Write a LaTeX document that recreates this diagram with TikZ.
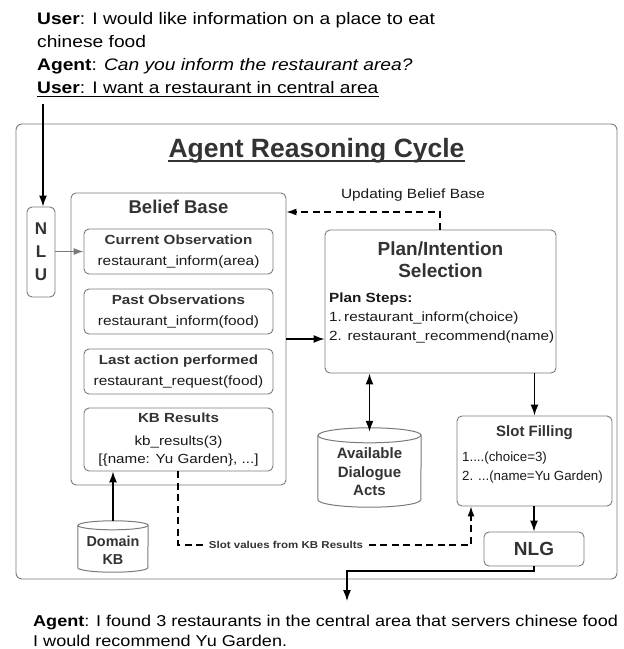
\documentclass[tikz,border=0pt]{standalone}
\usepackage{fontspec}
\setmainfont{Liberation Sans}
\newfontfamily\wide[FakeStretch=1.15]{Liberation Sans}
\usetikzlibrary{arrows.meta}
\definecolor{boxgray}{HTML}{7A7A7A}
\definecolor{txt}{HTML}{333333}
\definecolor{itm}{HTML}{1A1A1A}
\newcommand{\fsz}[2]{\fontsize{#1}{#2}\selectfont}
\begin{document}
\begin{tikzpicture}[x=1pt,y=-1pt,
  box/.style={draw=boxgray, line width=0.9pt, rounded corners=5pt, inner sep=0pt, fill=white},
  lbl/.style={inner sep=0pt, text=itm},
  ttl/.style={inner sep=0pt, text=txt},
  cyl/.style={draw=boxgray, line width=1pt, fill=white},
  arr/.style={line width=1.4pt, -{Latex[length=11pt,width=8pt]}},
  darr/.style={line width=1.4pt, {Latex[length=11pt,width=8pt]}-{Latex[length=11pt,width=8pt]}},
  dasharr/.style={line width=1.3pt, dash pattern=on 7pt off 4.5pt, -{Latex[length=10pt,width=7pt]}},
  grayarr/.style={draw=boxgray, line width=1pt, -{Latex[length=10pt,width=7pt]}, boxgray},
  tline/.style={anchor=base west, inner sep=0pt, font=\wide\fsz{16.7}{20}},
  bline/.style={anchor=base west, inner sep=0pt, font=\wide\fsz{15.7}{20}},
  itembox/.style={box, minimum width=189pt, minimum height=45pt, align=center, font=\wide\fsz{13.4}{21}, text=itm}
]
\useasboundingbox (0,0) rectangle (624,649);

% top dialogue
\node[tline] (u1) at (37,24) {\textbf{User}: I would like information on a place to eat};
\node[tline] (u2) at (37,47) {chinese food};
\node[tline] (a1) at (37,70) {\textbf{Agent}: \textit{Can you inform the restaurant area?}};
\node[tline] (u3) at (37,93) {\textbf{User}: I want a restaurant in central area};
\draw[line width=1.5pt] ([yshift=-3.5pt]u3.base west) -- ([yshift=-3.5pt]u3.base east);

% outer box
\node[box, minimum width=601pt, minimum height=455pt, rounded corners=6pt] (outer) at (316.5,351.5) {};
\node[ttl, font=\fsz{26.5}{30}\bfseries, anchor=base] (title) at (316.5,157) {Agent Reasoning Cycle};
\draw[txt, line width=2.3pt] ([yshift=-4pt]title.base west) -- ([yshift=-4pt]title.base east);

% NLU
\node[box, minimum width=28pt, minimum height=90pt, align=center, font=\fsz{17}{23}\bfseries, text=txt] (nlu) at (41,252) {N\\L\\U};

% Belief base
\node[box, minimum width=215pt, minimum height=292pt] (bb) at (178.5,339) {};
\node[ttl, font=\fsz{18.5}{20}\bfseries] (bbt) at (178.5,207) {Belief Base};
\node[itembox] (cur) at (178.5,251.5)
  {{\color{txt}\fsz{13.2}{21}\bfseries Current Observation}\\restaurant\_inform(area)};
\node[itembox] (past) at (178.5,311.5)
  {{\color{txt}\fsz{13.2}{21}\bfseries Past Observations}\\restaurant\_inform(food)};
\node[itembox] (last) at (178.5,371.5)
  {{\color{txt}\fsz{13.2}{21}\bfseries Last action performed}\\restaurant\_request(food)};
\node[itembox, minimum height=63pt, font=\wide\fsz{13.2}{18}] (kbres) at (178.5,439.5)
  {{\color{txt}\fsz{13.2}{18}\bfseries KB Results}\\[5pt]kb\_results(3)\\[0pt][\{name: Yu Garden\}, ...]};

% Plan
\node[box, minimum width=231pt, minimum height=143pt] (plan) at (440.5,301.5) {};
\node[ttl, align=center, font=\fsz{19}{22}\bfseries] (plant) at (440.5,260) {Plan/Intention\\Selection};
\node[lbl, align=left, anchor=west, font=\wide\fsz{13.3}{19}] (steps) at (329,318)
  {{\bfseries Plan Steps:}\\1.\,restaurant\_inform(choice)\\2. restaurant\_recommend(name)};

% Available dialogue acts cylinder
\node[minimum width=103pt, minimum height=79pt, inner sep=0pt] (ada) at (369.5,467.5) {};
\draw[cyl] ([yshift=-7.5pt]ada.north west) -- ([yshift=7.5pt]ada.south west)
  arc[start angle=180, end angle=360, x radius=51.5pt, y radius=7.5pt]
  -- ([yshift=-7.5pt]ada.north east)
  arc[start angle=0, end angle=180, x radius=51.5pt, y radius=7.5pt] -- cycle;
\draw[cyl, fill=none] ([yshift=-7.5pt]ada.north west) arc[start angle=180, end angle=360, x radius=51.5pt, y radius=7.5pt];
\node[ttl, align=center, font=\fsz{15}{18.5}\bfseries] (adat) at (369.5,472) {Available\\Dialogue\\Acts};

% Slot filling
\node[box, minimum width=155pt, minimum height=90pt] (slot) at (534.5,461) {};
\node[ttl, font=\fsz{15}{18}\bfseries] (slott) at (534.5,433) {Slot Filling};
\node[lbl, align=left, anchor=west, font=\fsz{13.3}{19}] (slotl) at (462,467.5) {1....(choice=3)\\2. ...(name=Yu Garden)};

% NLG
\node[box, minimum width=100pt, minimum height=34pt, font=\fsz{19}{22}\bfseries, text=txt] (nlg) at (534,549) {NLG};

% Domain KB cylinder
\node[minimum width=70pt, minimum height=51pt, inner sep=0pt] (dkb) at (113,546.5) {};
\draw[cyl] ([yshift=-4.5pt]dkb.north west) -- ([yshift=4.5pt]dkb.south west)
  arc[start angle=180, end angle=360, x radius=35pt, y radius=4.5pt]
  -- ([yshift=-4.5pt]dkb.north east)
  arc[start angle=0, end angle=180, x radius=35pt, y radius=4.5pt] -- cycle;
\draw[cyl, fill=none] ([yshift=-4.5pt]dkb.north west) arc[start angle=180, end angle=360, x radius=35pt, y radius=4.5pt];
\node[ttl, align=center, font=\fsz{14.4}{17.5}\bfseries] (dkbt) at (113,550.5) {Domain\\KB};

% bottom text
\node[bline] (b1) at (33,626) {\textbf{Agent}: I found 3 restaurants in the central area that servers chinese food};
\node[bline] (b2) at (33,646) {I would recommend Yu Garden.};

% coordinates
\coordinate (topin) at (43,104);
\coordinate (ub) at (440,212);
\coordinate (sv1) at (178,545);
\coordinate (sv2) at (471,545);
\coordinate (bend) at (347,571);
\coordinate (outend) at (347,601);

% connectors
\draw[arr] (topin) -- (topin |- nlu.north);
\draw[grayarr] (nlu.east |- cur.west) -- (cur.west);
\draw[arr] (bb.east) -- (plan.west |- bb.east);
\draw[dasharr] (plan.north -| ub) -- (ub) -- (bb.east |- ub);
\node[lbl, font=\wide\fsz{13.4}{16}, anchor=base] (ubl) at (413,198) {Updating Belief Base};
\draw[darr] (ada.north |- plan.south) -- ([yshift=-4pt]ada.north);
\draw[arr] (slot.north |- plan.south) -- (slot.north);
\draw[arr] (slot.south -| nlg.north) -- (nlg.north);
\draw[arr] (dkb.north) -- (kbres.south -| dkb.north);
\draw[dasharr] (kbres.south -| sv1) -- (sv1) -- (sv2) -- (slot.south -| sv2);
\node[lbl, fill=white, inner xsep=1pt, inner ysep=1pt, font=\wide\fsz{10}{12}\bfseries, text=txt] (svl) at (286,545) {Slot values from KB Results};
\draw[line width=1.2pt, -{Latex[length=11pt,width=8pt]}] (nlg.south) |- (bend) -- (outend);
\end{tikzpicture}
\end{document}
